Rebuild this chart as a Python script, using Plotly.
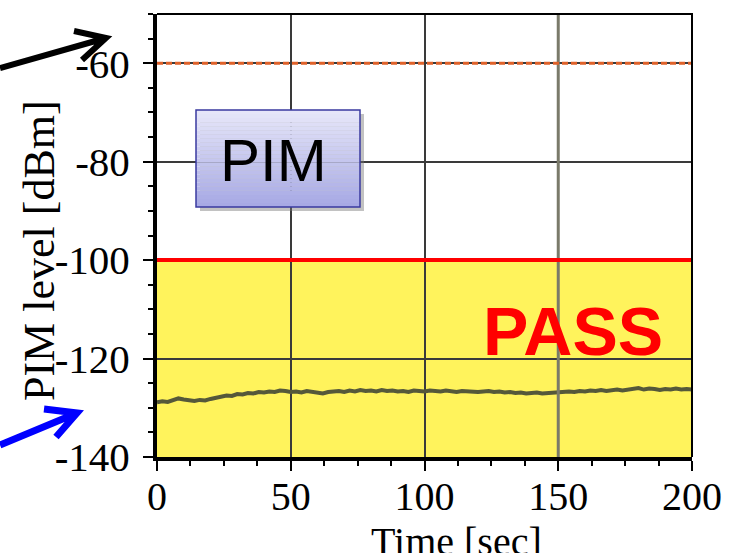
import plotly.graph_objects as go

# ---- data ----
time_sec = list(range(0, 201, 2))
pim_dbm = [
    -128.9, -128.7, -128.8, -128.4, -128.1, -128.3, -128.5, -128.6, -128.4, -128.5,
    -128.2, -128.0, -127.8, -127.5, -127.6, -127.2, -127.3, -127.0, -127.1, -126.8,
    -126.9, -126.7, -126.8, -126.5, -126.6, -126.8, -126.7, -126.9, -126.6, -126.7,
    -126.9, -127.1, -126.8, -126.7, -126.6, -126.8, -126.5, -126.7, -126.4, -126.6,
    -126.5, -126.7, -126.4, -126.6, -126.5, -126.7, -126.6, -126.8, -126.5, -126.6,
    -126.7, -126.5, -126.6, -126.7, -126.5, -126.6, -126.8, -126.6, -126.7, -126.6,
    -126.8, -126.7, -126.6, -126.8, -126.7, -126.9, -126.8, -127.0, -126.9, -127.1,
    -127.0, -126.9, -127.1, -127.0, -126.9, -126.8, -126.9, -126.7, -126.8, -126.6,
    -126.7, -126.5, -126.6, -126.4, -126.6, -126.5, -126.3, -126.5, -126.4, -126.2,
    -126.0, -126.3, -126.1, -126.2, -126.4, -126.2, -126.3, -126.1, -126.3, -126.2,
    -126.3,
]
x_ticks = [0, 50, 100, 150, 200]
y_ticks = [-140, -120, -100, -80, -60]
pass_limit = -100
ref_level = -60
x_range = [0, 200]
y_range = [-140, -50]

# ---- layout geometry (pixels) ----
W, H = 734, 553
L, R, T, B = 157, 692, 14, 457


def px(xp):
    return (xp - L) / (R - L)


def py(yp):
    return (B - yp) / (B - T)


fig = go.Figure()
fig.add_trace(go.Scatter(
    x=time_sec, y=pim_dbm, mode="lines",
    line=dict(color="#55583a", width=4), showlegend=False, hoverinfo="skip",
))

shapes = []
# pass zone
shapes.append(dict(type="rect", xref="x", yref="y", x0=x_range[0], x1=x_range[1],
                   y0=y_range[0], y1=pass_limit, fillcolor="#fff35c", line_width=0,
                   layer="below"))
# emphasized gridline
shapes.append(dict(type="line", xref="x", yref="paper", x0=x_ticks[3], x1=x_ticks[3],
                   y0=0, y1=1, line=dict(color="#7a7a6a", width=3)))
# reference dotted line
shapes.append(dict(type="line", xref="x", yref="y", x0=x_range[0], x1=x_range[1],
                   y0=ref_level, y1=ref_level,
                   line=dict(color="#e0622a", width=3, dash="6px,3px")))
# limit line
shapes.append(dict(type="line", xref="x", yref="y", x0=x_range[0], x1=x_range[1],
                   y0=pass_limit, y1=pass_limit, line=dict(color="#ff0000", width=4)))
# top/right border
shapes.append(dict(type="path", xref="paper", yref="paper",
                   path="M 0 1 L 1 1 L 1 0", line=dict(color="black", width=2)))

# PIM box: shadow + gradient
bx0, bx1, by0, by1 = 196, 360, 110, 207
shapes.append(dict(type="rect", xref="paper", yref="paper",
                   x0=px(bx0 + 4), x1=px(bx1 + 4), y0=py(by1 + 4), y1=py(by0 + 4),
                   fillcolor="rgba(120,120,120,0.45)", line_width=0))
nb = 24
top_c = (232, 232, 250)
bot_c = (166, 168, 228)
for i in range(nb):
    f = (i + 0.5) / nb
    c = tuple(int(top_c[k] + (bot_c[k] - top_c[k]) * f) for k in range(3))
    y_a = by0 + (by1 - by0) * i / nb
    y_b = by0 + (by1 - by0) * (i + 1) / nb
    shapes.append(dict(type="rect", xref="paper", yref="paper",
                       x0=px(bx0), x1=px(bx1), y0=py(y_b), y1=py(y_a),
                       fillcolor="rgb(%d,%d,%d)" % c, line_width=0))
shapes.append(dict(type="rect", xref="paper", yref="paper",
                   x0=px(bx0), x1=px(bx1), y0=py(by1), y1=py(by0),
                   line=dict(color="#3a3aa0", width=1.5)))


def arrow(tail, tip, arm1, arm2, color, width):
    p = "M %f %f L %f %f" % (px(tail[0]), py(tail[1]), px(tip[0]), py(tip[1]))
    p += " M %f %f L %f %f L %f %f" % (px(arm1[0]), py(arm1[1]), px(tip[0]), py(tip[1]),
                                       px(arm2[0]), py(arm2[1]))
    return dict(type="path", xref="paper", yref="paper", path=p,
                line=dict(color=color, width=width))


shapes.append(arrow((0, 68), (106, 38), (74, 31), (82, 60), "black", 6))
shapes.append(arrow((0, 445), (77, 413), (44, 409), (56, 437), "#0000ff", 7))

serif = "Liberation Serif"
annotations = [
    dict(text="PIM", xref="paper", yref="paper", x=px(273), y=py(160),
         xanchor="center", yanchor="middle",
         showarrow=False, font=dict(family="Liberation Sans", size=60, color="black")),
    dict(text="<b>PASS</b>", xref="paper", yref="paper", x=px(573), y=py(331),
         xanchor="center", yanchor="middle",
         showarrow=False, font=dict(family="Liberation Sans", size=68, color="#ff0000")),
    dict(text="Time [sec]", xref="paper", yref="paper", x=px(456), y=py(541),
         xanchor="center", yanchor="middle",
         showarrow=False, font=dict(family=serif, size=40, color="black")),
    dict(text="PIM level [dBm]", xref="paper", yref="paper", x=px(39), y=py(251),
         xanchor="center", yanchor="middle", textangle=-90,
         showarrow=False, font=dict(family=serif, size=44, color="black")),
]

fig.update_layout(
    width=W, height=H,
    margin=dict(l=L, r=W - R, t=T, b=H - B, autoexpand=False),
    plot_bgcolor="white", paper_bgcolor="white",
    showlegend=False,
    shapes=shapes, annotations=annotations,
    xaxis=dict(
        range=x_range, tickvals=x_ticks, ticktext=[str(v) for v in x_ticks],
        automargin=False,
        showline=True, linewidth=4, linecolor="black",
        ticks="outside", ticklen=10, tickwidth=2, tickcolor="black",
        minor=dict(dtick=12.5, ticks="outside", ticklen=5, tickwidth=1.5, tickcolor="black", showgrid=False),
        showgrid=True, gridcolor="#3a3a3a", gridwidth=1.5, zeroline=False,
        tickfont=dict(family=serif, size=40, color="black"),
        ticklabelstandoff=-9,
    ),
    yaxis=dict(
        range=y_range, tickvals=y_ticks, ticktext=[str(v) for v in y_ticks],
        automargin=False,
        showline=True, linewidth=4, linecolor="black",
        ticks="outside", ticklen=10, tickwidth=2, tickcolor="black",
        minor=dict(dtick=5, ticks="outside", ticklen=5, tickwidth=1.5, tickcolor="black", showgrid=False),
        showgrid=True, gridcolor="#3a3a3a", gridwidth=1.5, zeroline=False,
        tickfont=dict(family=serif, size=41, color="black"),
        ticklabelstandoff=5,
    ),
)

fig.write_html("out.html", config={"displayModeBar": False},
               post_script="document.body.style.margin='0';")
